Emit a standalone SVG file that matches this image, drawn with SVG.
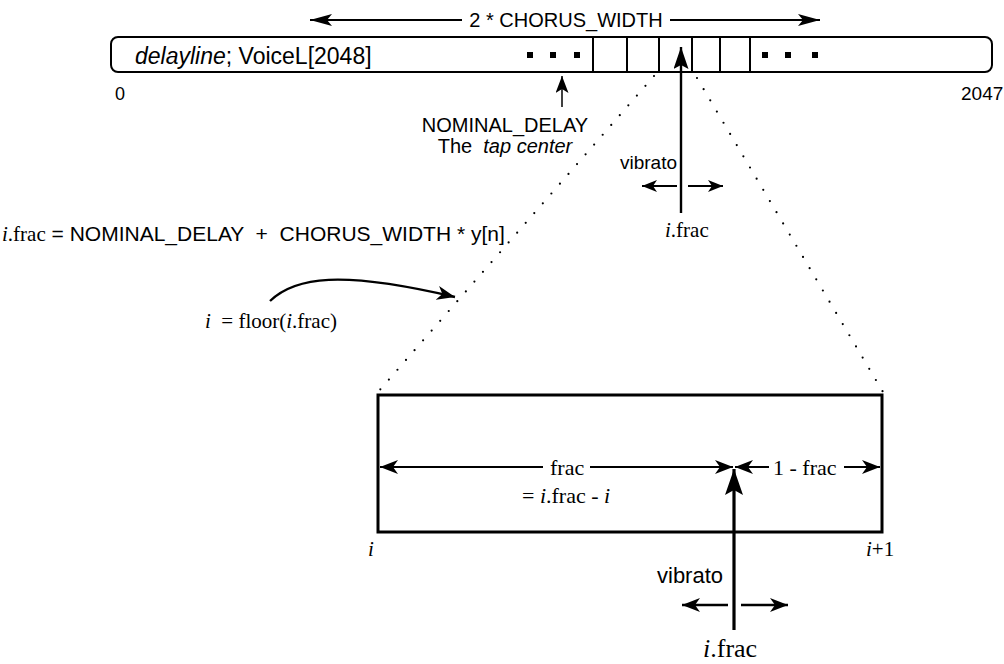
<svg xmlns="http://www.w3.org/2000/svg" width="1004" height="664" viewBox="0 0 1004 664">
<style>
.sans{font-family:"Liberation Sans",Arial,sans-serif;fill:#000}
.serif{font-family:"Liberation Serif","Times New Roman",serif;fill:#000}
.it{font-style:italic}
.ln{stroke:#000;fill:none}
.dot{stroke:#000;fill:none;stroke-width:2.2;stroke-linecap:round;stroke-dasharray:0 13}
.sq{fill:#000}
</style>
<defs>
<marker id="big" viewBox="0 0 22 12" refX="22" refY="6" markerWidth="22" markerHeight="12" markerUnits="userSpaceOnUse" orient="auto-start-reverse"><path d="M0,0 L22,6 L0,12 L5,6 Z" fill="#000"/></marker>
<marker id="med" viewBox="0 0 18 14" refX="18" refY="7" markerWidth="18" markerHeight="14" markerUnits="userSpaceOnUse" orient="auto-start-reverse"><path d="M0,0 L18,7 L0,14 L5,7 Z" fill="#000"/></marker>
<marker id="sm" viewBox="0 0 15 12" refX="15" refY="6" markerWidth="15" markerHeight="12" markerUnits="userSpaceOnUse" orient="auto-start-reverse"><path d="M0,0 L15,6 L0,12 L4,6 Z" fill="#000"/></marker>
<marker id="vert" viewBox="0 0 26 18" refX="26" refY="9" markerWidth="26" markerHeight="18" markerUnits="userSpaceOnUse" orient="auto"><path d="M0,0 L26,9 L0,18 L5,9 Z" fill="#000"/></marker>
<marker id="vtop" viewBox="0 0 22 15" refX="22" refY="7.5" markerWidth="22" markerHeight="15" markerUnits="userSpaceOnUse" orient="auto"><path d="M0,0 L22,7.5 L0,15 L4,7.5 Z" fill="#000"/></marker>
<marker id="nom" viewBox="0 0 17 13" refX="17" refY="6.5" markerWidth="17" markerHeight="13" markerUnits="userSpaceOnUse" orient="auto"><path d="M0,0 L17,6.5 L0,13 L4,6.5 Z" fill="#000"/></marker>
</defs>

<g id="delayline">
<rect x="111" y="37" width="881" height="35" rx="7" class="ln" stroke-width="2"/>
<line x1="593" y1="37" x2="593" y2="72" class="ln" stroke-width="2"/>
<line x1="627" y1="37" x2="627" y2="72" class="ln" stroke-width="2"/>
<line x1="659" y1="37" x2="659" y2="72" class="ln" stroke-width="2"/>
<line x1="692" y1="37" x2="692" y2="72" class="ln" stroke-width="2"/>
<line x1="720" y1="37" x2="720" y2="72" class="ln" stroke-width="2"/>
<line x1="750" y1="37" x2="750" y2="72" class="ln" stroke-width="2"/>
<rect x="527" y="52" width="6" height="6" class="sq"/>
<rect x="550" y="52" width="6" height="6" class="sq"/>
<rect x="574" y="52" width="6" height="6" class="sq"/>
<rect x="762" y="52" width="6" height="6" class="sq"/>
<rect x="785" y="52" width="6" height="6" class="sq"/>
<rect x="812" y="52" width="6" height="6" class="sq"/>
<text x="135" y="64" class="sans" font-size="23"><tspan class="it">delayline</tspan>; VoiceL[2048]</text>
<text x="120" y="100" class="sans" font-size="18" text-anchor="middle">0</text>
<text x="961" y="100" class="sans" font-size="19">2047</text>
</g>

<g id="chorus-width">
<text x="566" y="27" class="sans" font-size="20" text-anchor="middle">2 * CHORUS_WIDTH</text>
</g>

<g id="nominal-delay">
<text x="505" y="132" class="sans" font-size="20" text-anchor="middle">NOMINAL_DELAY</text>
<text x="505" y="153" class="sans" font-size="20" text-anchor="middle" xml:space="preserve">The  <tspan class="it">tap center</tspan></text>
</g>

<g id="upper-vibrato">
<text x="620" y="169" class="sans" font-size="19">vibrato</text>
<text x="665" y="237" class="serif" font-size="21"><tspan class="it">i</tspan>.frac</text>
</g>

<g id="formula">
<text x="2" y="241" font-size="21" xml:space="preserve"><tspan class="serif"><tspan class="it">i</tspan>.frac</tspan><tspan class="sans"> = NOMINAL_DELAY  +  CHORUS_WIDTH * y[n]</tspan></text>
</g>

<g id="floor">
<text x="205" y="328" class="serif" font-size="21" xml:space="preserve"><tspan class="it">i</tspan>  = floor(<tspan class="it">i</tspan>.frac)</text>
</g>

<g id="interp-box">
<rect x="378" y="395" width="504" height="137" class="ln" stroke-width="3"/>
<text x="550" y="475" class="serif" font-size="22">frac</text>
<text x="522" y="503" class="serif" font-size="22">= <tspan class="it">i</tspan>.frac - <tspan class="it">i</tspan></text>
<text x="773" y="475" class="serif" font-size="22">1 - frac</text>
<text x="368" y="556" class="serif it" font-size="21">i</text>
<text x="866" y="556" class="serif" font-size="21"><tspan class="it">i</tspan>+1</text>
</g>

<g id="lower-vibrato">
<text x="657" y="583" class="sans" font-size="22">vibrato</text>
<text x="703" y="657" class="serif" font-size="26"><tspan class="it">i</tspan>.frac</text>
</g>

<g id="connectors">
<line x1="462" y1="20" x2="310" y2="20" class="ln" stroke-width="2" marker-end="url(#big)"/>
<line x1="670" y1="20" x2="820" y2="20" class="ln" stroke-width="2" marker-end="url(#big)"/>
<line x1="562" y1="107" x2="562" y2="76" class="ln" stroke-width="1.5" marker-end="url(#nom)"/>
<line x1="681" y1="213" x2="681" y2="47" class="ln" stroke-width="2.4" marker-end="url(#vtop)"/>
<line x1="677" y1="186" x2="642" y2="186" class="ln" stroke-width="2.2" marker-end="url(#sm)"/>
<line x1="688" y1="186" x2="723" y2="186" class="ln" stroke-width="2.2" marker-end="url(#sm)"/>
<line x1="654" y1="76" x2="378" y2="392" class="dot"/>
<line x1="697" y1="78" x2="883" y2="392" class="dot"/>
<path d="M270,301 C295,277 340,270 455,297" class="ln" stroke-width="2.4" marker-end="url(#med)"/>
<line x1="543" y1="467" x2="380" y2="467" class="ln" stroke-width="2.2" marker-end="url(#med)"/>
<line x1="590" y1="467" x2="733" y2="467" class="ln" stroke-width="2.2" marker-end="url(#med)"/>
<line x1="769" y1="467" x2="735" y2="467" class="ln" stroke-width="2.2" marker-end="url(#med)"/>
<line x1="844" y1="467" x2="880" y2="467" class="ln" stroke-width="2.2" marker-end="url(#med)"/>
<line x1="734" y1="630" x2="734" y2="469" class="ln" stroke-width="3.2" marker-end="url(#vert)"/>
<line x1="728" y1="605" x2="682" y2="605" class="ln" stroke-width="2.4" marker-end="url(#med)"/>
<line x1="741" y1="605" x2="788" y2="605" class="ln" stroke-width="2.4" marker-end="url(#med)"/>
</g>
</svg>
